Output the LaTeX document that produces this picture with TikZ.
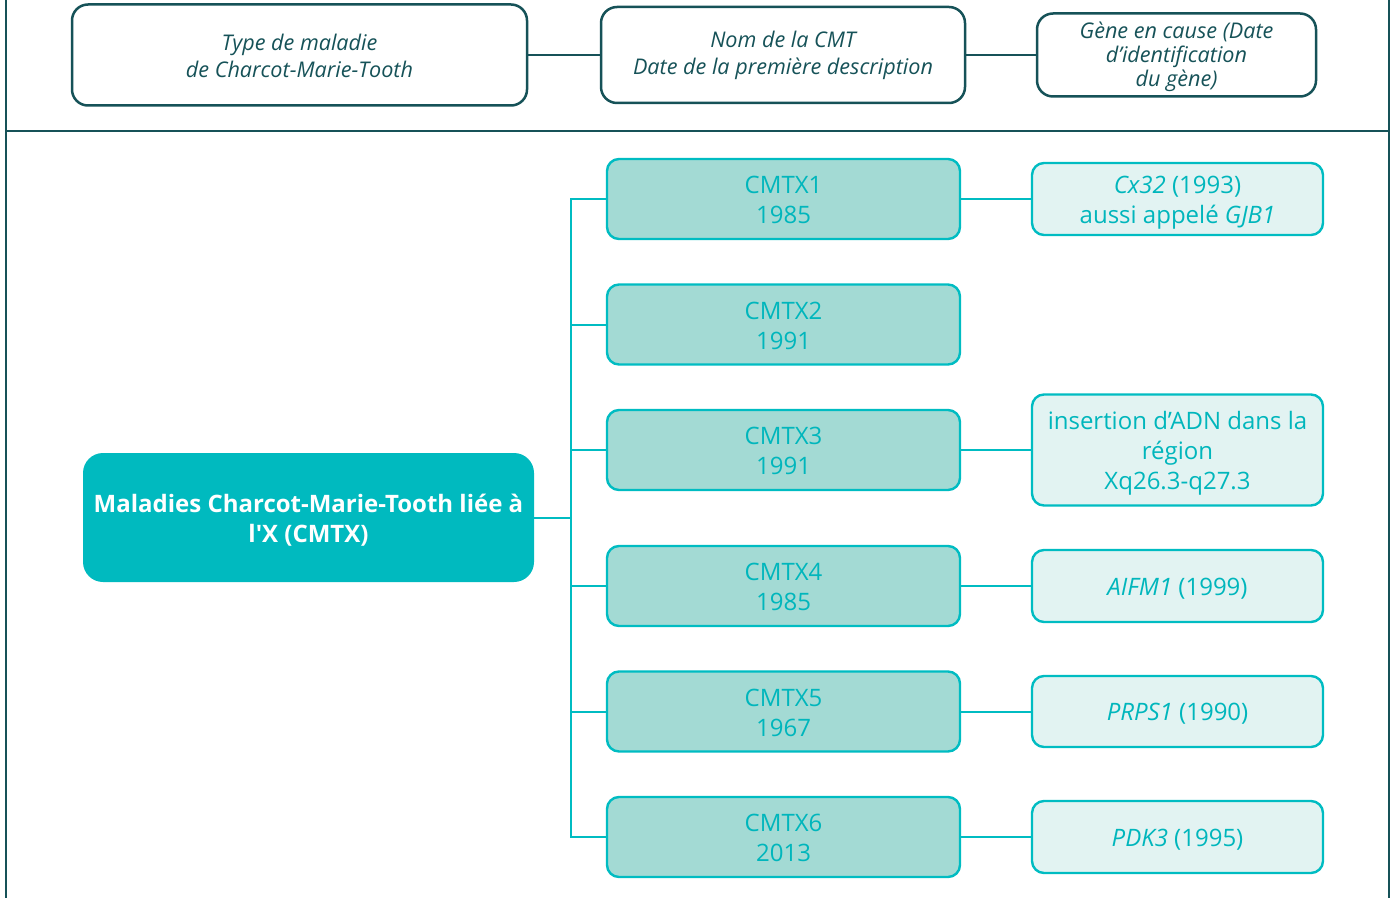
\documentclass[tikz,border=0pt]{standalone}
\usepackage{fontspec}
\setmainfont[Ligatures=TeXOff]{Open Sans}
\newcommand\myup[1]{\rule{0pt}{#1}}
\definecolor{darkteal}{RGB}{22,82,88}
\definecolor{maincyan}{RGB}{0,186,191}
\definecolor{lightteal}{RGB}{163,218,212}
\definecolor{palegene}{RGB}{226,243,242}
\definecolor{tealtext}{RGB}{0,182,188}
\definecolor{tealline}{RGB}{0,188,194}
\tikzset{
  hdrbox/.style={draw=darkteal, line width=1.25pt, rounded corners=8pt, fill=white,
    text=darkteal, align=center, font=\itshape\fontsize{10.8pt}{13.5pt}\selectfont, inner sep=0pt},
  cmtbox/.style={draw=tealline, line width=1.2pt, rounded corners=6pt, fill=lightteal,
    text=tealtext, align=center, font=\fontsize{12pt}{15pt}\selectfont,
    minimum width=176.5pt, minimum height=40pt, inner sep=0pt},
  genebox/.style={draw=tealline, line width=1.2pt, rounded corners=6pt, fill=palegene,
    text=tealtext, align=center, font=\fontsize{12pt}{15pt}\selectfont,
    minimum width=145.5pt, inner sep=0pt},
  mainbox/.style={fill=maincyan, rounded corners=10pt, text=white, align=center,
    font=\bfseries\fontsize{12pt}{15pt}\selectfont, minimum width=225.5pt, minimum height=64.5pt, inner sep=0pt},
  frameline/.style={draw=darkteal, line width=1pt},
  hdrlink/.style={draw=darkteal, line width=1.2pt},
  link/.style={draw=tealline, line width=1pt}
}
\begin{document}
\begin{tikzpicture}[x=0.5pt,y=-0.5pt]
\useasboundingbox (0,0) rectangle (1395,898);
% frame
\coordinate (fl0) at (6,0);
\coordinate (fl1) at (6,898);
\coordinate (fr0) at (1389,0);
\coordinate (fr1) at (1389,898);
\coordinate (fm0) at (6,131);
\coordinate (fm1) at (1389,131);
\draw[frameline] (fl0) -- (fl1);
\draw[frameline] (fr0) -- (fr1);
\draw[frameline] (fm0) -- (fm1);
% header
\node[hdrbox, minimum width=227.5pt, minimum height=50.5pt] (h1) at (299.5,55) {\myup{9pt}Type de maladie\\de Charcot-Marie-Tooth};
\node[hdrbox, minimum width=182pt, minimum height=48pt] (h2) at (783,55) {\myup{9pt}Nom de la CMT\\Date de la première description};
\node[hdrbox, minimum width=139.5pt, minimum height=41.5pt, font=\itshape\fontsize{10.8pt}{12pt}\selectfont] (h3) at (1176.5,55) {\myup{10.5pt}Gène en cause (Date\\d’identification\\du gène)};
\draw[hdrlink] (h1.east) -- (h2.west);
\draw[hdrlink] (h2.east) -- (h3.west);
% main
\node[mainbox] (main) at (308.5,517.5) {\myup{12pt}Maladies Charcot-Marie-Tooth liée à\\l'X (CMTX)};
% CMTX boxes
\node[cmtbox] (c1) at (783.5,199) {\myup{10pt}CMTX1\\1985};
\node[cmtbox] (c2) at (783.5,324.5) {\myup{10pt}CMTX2\\1991};
\node[cmtbox] (c3) at (783.5,450) {\myup{10pt}CMTX3\\1991};
\node[cmtbox] (c4) at (783.5,586) {\myup{10pt}CMTX4\\1985};
\node[cmtbox] (c5) at (783.5,711.5) {\myup{10pt}CMTX5\\1967};
\node[cmtbox] (c6) at (783.5,837) {\myup{10pt}CMTX6\\2013};
% gene boxes
\node[genebox, minimum height=36pt] (g1) at (1177.5,199) {\myup{12pt}\textit{Cx32} (1993)\\aussi appelé \textit{GJB1}};
\node[genebox, minimum height=55.5pt] (g3) at (1177.5,450) {\myup{12.3pt}insertion d’ADN dans la\\région\\Xq26.3-q27.3};
\node[genebox, minimum height=36pt] (g4) at (1177.5,586) {\myup{11pt}\textit{AIFM1} (1999)};
\node[genebox, minimum height=35.5pt] (g5) at (1177.5,711.5) {\myup{11pt}\textit{PRPS1} (1990)};
\node[genebox, minimum height=36pt] (g6) at (1177.5,837) {\myup{11pt}\textit{PDK3} (1995)};
% trunk
\coordinate (tr) at (571,0);
\draw[link] (c1.west) -- (c1.west -| tr) -- (c6.west -| tr) -- (c6.west);
\draw[link] (main.east) -- (main.east -| tr);
\draw[link] (c2.west) -- (c2.west -| tr);
\draw[link] (c3.west) -- (c3.west -| tr);
\draw[link] (c4.west) -- (c4.west -| tr);
\draw[link] (c5.west) -- (c5.west -| tr);
% gene links
\draw[link] (c1.east) -- (g1.west);
\draw[link] (c3.east) -- (g3.west);
\draw[link] (c4.east) -- (g4.west);
\draw[link] (c5.east) -- (g5.west);
\draw[link] (c6.east) -- (g6.west);
\end{tikzpicture}
\end{document}
